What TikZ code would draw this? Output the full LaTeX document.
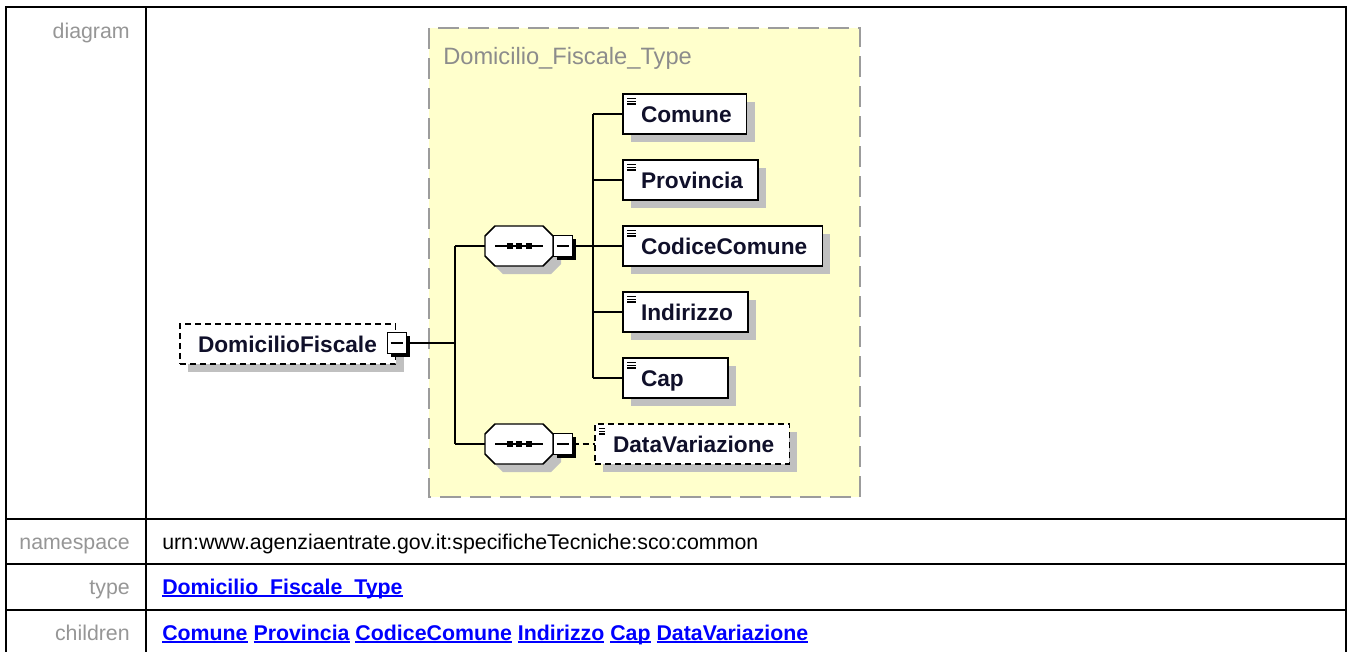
\documentclass[tikz,border=0pt]{standalone}
\usepackage{fontspec}
\setmainfont{Liberation Sans}
\usetikzlibrary{shadows}
\definecolor{yel}{HTML}{FFFFCC}
\definecolor{shad}{HTML}{C0C0C0}
\definecolor{lblgray}{HTML}{969696}
\definecolor{typegray}{HTML}{8C8C8C}
\definecolor{boxgray}{HTML}{9C9C9C}
\definecolor{linkblue}{HTML}{0000FF}
\definecolor{navy}{HTML}{10102A}
\newcommand\mylink[1]{\setbox0=\hbox{#1}\rlap{\rule[-2.4pt]{\wd0}{1.3pt}}\box0\relax}
\tikzset{
  conn/.style={line width=1.1pt, draw=black},
  seqline/.style={line width=1.1pt, draw=black, fill=white},
  seqbox/.style={rectangle, minimum width=51pt, minimum height=30pt, inner sep=0pt, outer sep=0pt},
  elembase/.style={rectangle, draw=black, line width=1.1pt, fill=white, outer sep=0pt, inner sep=0pt,
     minimum height=30pt, anchor=west, text=navy, text height=12.2pt, text depth=0pt,
     font=\fontsize{17}{20}\selectfont\bfseries,
     execute at begin node={\hspace*{13.5pt}},
     drop shadow={fill=shad, opacity=1, shadow xshift=6pt, shadow yshift=-6pt}},
  elem/.style={elembase, execute at end node={\hspace*{11.25pt}},
     path picture={\foreach \k in {3.6,5.6,7.6}
        \draw[line width=1pt] ([xshift=3pt,yshift=-\k pt]path picture bounding box.north west) -- ++(7pt,0pt);}},
  optelem/.style={elem, dash pattern=on 4.5pt off 3pt},
  mbox/.style={rectangle, draw=black, line width=1pt, fill=white, minimum width=14.5pt, minimum height=15.5pt,
     inner sep=0pt, outer sep=0pt,
     drop shadow={fill=black, opacity=1, shadow xshift=2.8pt, shadow yshift=-2.8pt},
     path picture={\draw[line width=1.1pt] ([xshift=2.5pt]path picture bounding box.west) -- ([xshift=-2.5pt]path picture bounding box.east);}},
  tbl/.style={line width=1.5pt, draw=black},
  lbl/.style={font=\fontsize{16}{19}\selectfont, text=lblgray, anchor=base east, inner sep=0pt},
  val/.style={font=\fontsize{16}{19}\selectfont, text=black, anchor=base west, inner sep=0pt},
  lnk/.style={font=\fontsize{16}{19}\selectfont\bfseries, text=linkblue, anchor=base west, inner sep=0pt},
}
\newcommand\seqcomp[3]{%
  \begin{scope}[shift={(#2,#3)}]
    \fill[shad] (-16,-12) -- (32,-12) -- (42,-2) -- (42,18) -- (32,28) -- (-16,28) -- (-26,18) -- (-26,-2) -- cycle;
    \draw[seqline] (-24,-20) -- (24,-20) -- (34,-10) -- (34,10) -- (24,20) -- (-24,20) -- (-34,10) -- (-34,-10) -- cycle;
    \draw[conn] (-24,0) -- (24,0);
    \foreach \dx in {-9.5,0,9.5} \fill (\dx-3,-3) rectangle (\dx+3,3);
  \end{scope}
  \node[seqbox] (#1) at (#2,#3) {};
}
\begin{document}
\begin{tikzpicture}[x=0.75pt,y=-0.75pt]
\useasboundingbox (0,0) rectangle (1348,651);
\fill[white] (0,0) rectangle (1348,651);
% table
\draw[tbl] (6,7) rectangle (1345.5,665);
\draw[tbl] (146,7) -- (146,665);
\draw[tbl] (6,519) -- (1345.5,519);
\draw[tbl] (6,564) -- (1345.5,564);
\draw[tbl] (6,610) -- (1345.5,610);
\node[lbl] (l1) at (130,38) {diagram};
\node[lbl] (l2) at (130,549) {namespace};
\node[lbl] (l3) at (130,594) {type};
\node[lbl] (l4) at (130,640) {children};
\node[val] (v2) at (162,549) {urn:www.agenziaentrate.gov.it:specificheTecniche:sco:common};
\node[lnk] (v3) at (162,594) {\mylink{Domicilio\_Fiscale\_Type}};
\node[lnk] (v4) at (162,640) {\mylink{Comune} \mylink{Provincia} \mylink{CodiceComune} \mylink{Indirizzo} \mylink{Cap} \mylink{DataVariazione}};
% container type
\draw[line width=1.5pt, draw=boxgray, fill=yel, dash pattern=on 15.75pt off 6.75pt] (429,28) rectangle (860,497);
\node[font=\fontsize{17.75}{20}\selectfont, text=typegray, anchor=west, inner sep=0pt, text height=12.7pt, text depth=0pt] (tlab) at (443,56) {Domicilio\_Fiscale\_Type};
% root element
\node[elembase, dash pattern=on 4.5pt off 3pt] (df) at (180,344) {DomicilioFiscale\hspace*{14pt}};
\node[mbox] (mF) at (397,343) {};
% sequences
\seqcomp{s1}{519}{246}
\seqcomp{s2}{519}{444}
\node[mbox] (m1) at (563,246) {};
\node[mbox] (m2) at (563,444) {};
% children
\node[elem] (comune) at (623,114) {Comune};
\node[elem] (prov) at (623,180) {Provincia};
\node[elem] (codc) at (623,246) {CodiceComune};
\node[elem] (ind) at (623,312) {Indirizzo};
\node[elem] (cap) at (623,378) {Cap\hspace*{21.75pt}};
\node[optelem] (dv) at (595,444) {DataVariazione};
% connectors
\coordinate (t1) at (455,345);
\coordinate (t2) at (593,246);
\draw[conn] (mF.east) -- (mF.east -| t1);
\draw[conn] (s1.west -| t1) -- (s2.west -| t1);
\draw[conn] (s1.west -| t1) -- (s1.west);
\draw[conn] (s2.west -| t1) -- (s2.west);
\draw[conn] (m1.east) -- (m1.east -| t2);
\draw[conn] (comune.west -| t2) -- (cap.west -| t2);
\foreach \n in {comune,prov,codc,ind,cap} \draw[conn] (\n.west -| t2) -- (\n.west);
\draw[conn, dash pattern=on 4.5pt off 3pt] (m2.east) -- (dv.west);
\end{tikzpicture}
\end{document}
